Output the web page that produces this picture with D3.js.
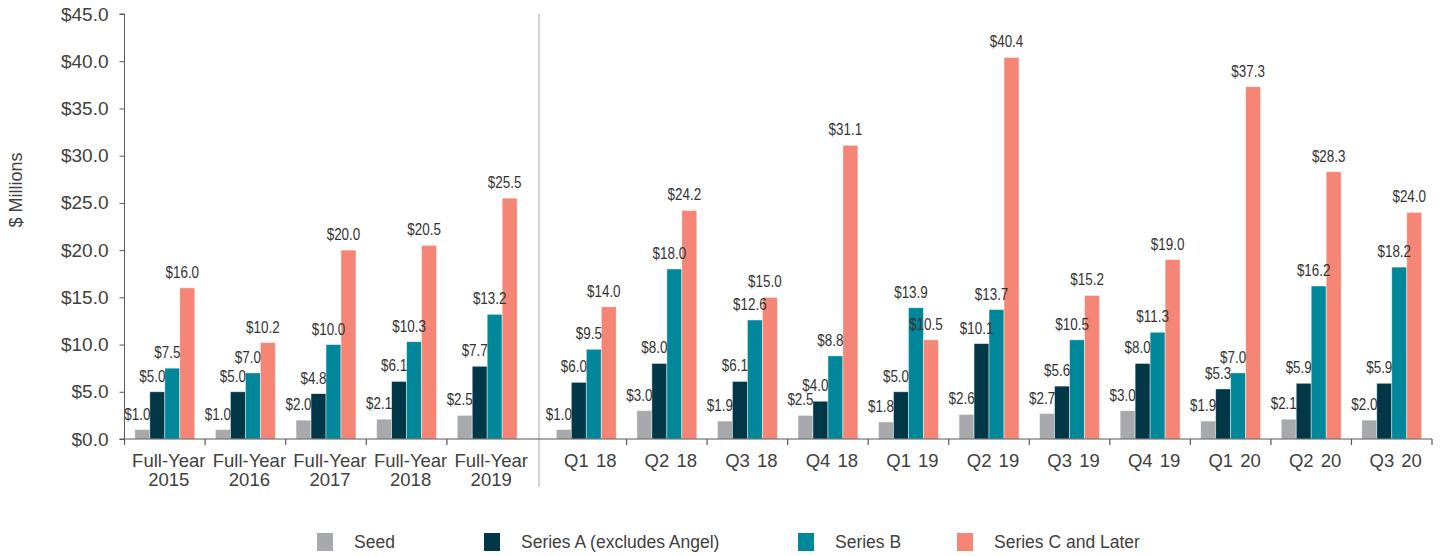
<!DOCTYPE html>
<html>
<head>
<meta charset="utf-8">
<script src="https://cdn.jsdelivr.net/npm/d3@7"></script>
<style>
  html, body { margin: 0; padding: 0; background: #fff; }
  svg { display: block; font-family: "Liberation Sans", Arial, sans-serif; }
</style>
</head>
<body>
<svg id="chart" width="1442" height="556"></svg>
<script>
// ---- data ----
const yearCategories = ["Full-Year 2015", "Full-Year 2016", "Full-Year 2017", "Full-Year 2018", "Full-Year 2019"];
const quarterCategories = ["Q1 18", "Q2 18", "Q3 18", "Q4 18", "Q1 19", "Q2 19", "Q3 19", "Q4 19", "Q1 20", "Q2 20", "Q3 20"];
const seriesNames = ["Seed", "Series A (excludes Angel)", "Series B", "Series C and Later"];
const seedValues    = [1.0, 1.0, 2.0, 2.1, 2.5, 1.0, 3.0, 1.9, 2.5, 1.8, 2.6, 2.7, 3.0, 1.9, 2.1, 2.0];
const seriesAValues = [5.0, 5.0, 4.8, 6.1, 7.7, 6.0, 8.0, 6.1, 4.0, 5.0, 10.1, 5.6, 8.0, 5.3, 5.9, 5.9];
const seriesBValues = [7.5, 7.0, 10.0, 10.3, 13.2, 9.5, 18.0, 12.6, 8.8, 13.9, 13.7, 10.5, 11.3, 7.0, 16.2, 18.2];
const seriesCValues = [16.0, 10.2, 20.0, 20.5, 25.5, 14.0, 24.2, 15.0, 31.1, 10.5, 40.4, 15.2, 19.0, 37.3, 28.3, 24.0];
const yTickValues = [0, 5, 10, 15, 20, 25, 30, 35, 40, 45];
const yAxisTitle = "$ Millions";

// ---- style / layout ----
const colors = ["#a7a9ac", "#013747", "#00879a", "#f58675"];
const textColor = "#404040";
const axisColor = "#595959";
const plotLeft = 124.5, plotRight = 1432, plotTop = 14, plotBottom = 439;
const fyEnd = 527.5, qStart = 546, separatorX = 539;
const legendX = [317, 484, 798, 957];
const labelSqueeze = 0.84;

const svg = d3.select("#chart");
const allCategories = yearCategories.concat(quarterCategories);
const seriesValues = [seedValues, seriesAValues, seriesBValues, seriesCValues];

const y = d3.scaleLinear().domain([0, 45]).range([plotBottom, plotTop]);
const xFY = d3.scaleBand().domain(yearCategories).range([plotLeft, fyEnd]);
const xQ = d3.scaleBand().domain(quarterCategories).range([qStart, plotRight]);
const scaleFor = c => yearCategories.includes(c) ? xFY : xQ;
const bandX = c => scaleFor(c)(c);
const xInner = d3.scaleBand().domain(seriesNames).range([0, xFY.bandwidth()])
  .paddingInner(0).paddingOuter(0.69);

// separator line
svg.append("line")
  .attr("x1", separatorX).attr("x2", separatorX)
  .attr("y1", plotTop).attr("y2", 487)
  .attr("stroke", "#c4c4c4").attr("stroke-width", 1.5);

// bars
const barData = [];
allCategories.forEach((c, i) => {
  seriesNames.forEach((s, j) => {
    barData.push({ cat: c, series: s, idx: j, value: seriesValues[j][i] });
  });
});

svg.append("g").selectAll("rect").data(barData).join("rect")
  .attr("x", d => bandX(d.cat) + xInner(d.series))
  .attr("y", d => y(d.value))
  .attr("width", xInner.bandwidth())
  .attr("height", d => y(0) - y(d.value))
  .attr("fill", d => colors[d.idx])
  .attr("stroke", "rgba(255,255,255,0.55)")
  .attr("stroke-width", 0.8);

// value labels (horizontally condensed)
svg.append("g").selectAll("text").data(barData).join("text")
  .attr("transform", d => `translate(${bandX(d.cat) + xInner(d.series) + xInner.bandwidth() / 2 - 5},${y(d.value) - 10}) scale(${labelSqueeze},1)`)
  .attr("text-anchor", "middle")
  .attr("font-size", 16)
  .attr("fill", "#333")
  .text(d => "$" + d.value.toFixed(1));

// y axis
const yAxis = d3.axisLeft(y).tickValues(yTickValues)
  .tickFormat(d => "$" + d.toFixed(1)).tickSize(5).tickPadding(11);
const gy = svg.append("g").attr("transform", `translate(${plotLeft},0)`).call(yAxis);
gy.select(".domain").attr("stroke", axisColor).attr("d", `M-5,${plotTop}H0V${plotBottom}H-5`);
gy.selectAll(".tick line").attr("stroke", axisColor);
gy.selectAll(".tick text")
  .attr("font-family", "'Liberation Sans', Arial, sans-serif")
  .attr("font-size", 19).attr("fill", textColor);

// x axis baseline and ticks
svg.append("line")
  .attr("x1", plotLeft).attr("x2", plotRight).attr("y1", plotBottom).attr("y2", plotBottom)
  .attr("stroke", axisColor).attr("stroke-width", 1.2);
const tickXs = [];
yearCategories.forEach(c => tickXs.push(xFY(c)));
quarterCategories.forEach((c, i) => { if (i > 0) tickXs.push(xQ(c)); });
tickXs.push(plotRight);
svg.append("g").selectAll("line").data(tickXs).join("line")
  .attr("x1", d => d).attr("x2", d => d)
  .attr("y1", plotBottom).attr("y2", plotBottom + 6)
  .attr("stroke", axisColor).attr("stroke-width", 1.2);

// x labels
const xl = svg.append("g").selectAll("text").data(allCategories).join("text")
  .attr("text-anchor", "middle")
  .attr("font-size", 18.5)
  .attr("fill", textColor)
  .attr("word-spacing", 2);
xl.each(function (c) {
  const sc = scaleFor(c);
  const cx = sc(c) + sc.bandwidth() / 2 + 4;
  const t = d3.select(this);
  if (yearCategories.includes(c)) {
    const parts = c.split(" ");
    t.append("tspan").attr("x", cx).attr("y", 467).text(parts[0]);
    t.append("tspan").attr("x", cx).attr("y", 486).text(parts[1]);
  } else {
    t.attr("x", cx).attr("y", 467).text(c);
  }
});

// y axis title
svg.append("text")
  .attr("transform", "translate(22,190) rotate(-90)")
  .attr("text-anchor", "middle")
  .attr("font-size", 18)
  .attr("fill", textColor)
  .text(yAxisTitle);

// legend
const lg = svg.append("g").selectAll("g").data(seriesNames).join("g")
  .attr("transform", (d, i) => `translate(${legendX[i]},533)`);
lg.append("rect").attr("width", 16).attr("height", 18).attr("fill", (d, i) => colors[i]);
lg.append("text").attr("x", 37).attr("y", 15)
  .attr("font-size", 17.5).attr("fill", textColor).text(d => d);
</script>
</body>
</html>
